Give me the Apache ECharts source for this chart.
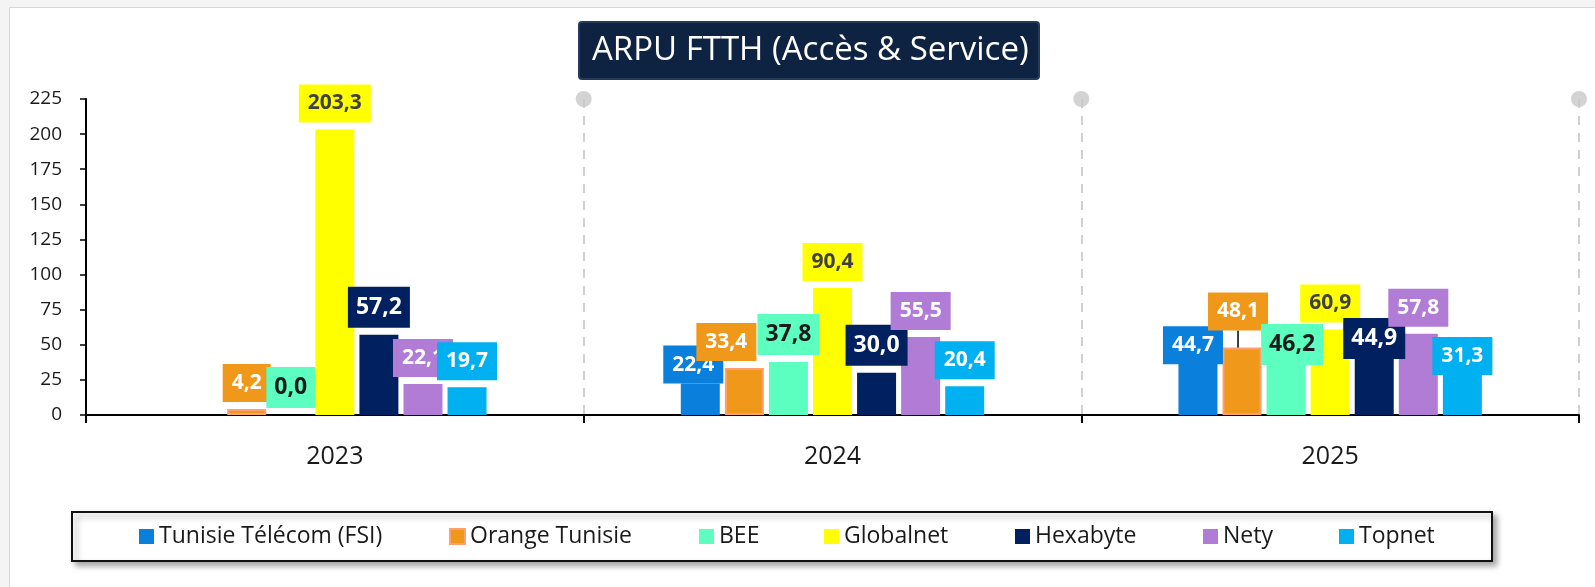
<!DOCTYPE html>
<html>
<head>
<meta charset="utf-8">
<script src="https://cdn.jsdelivr.net/npm/echarts@6/dist/echarts.min.js"></script>
<style>
  html, body { margin: 0; padding: 0; background: #f4f4f4; }
  .frame {
    position: absolute; left: 9px; top: 7px; right: -2px; bottom: -2px;
    background: #fff; border: 1px solid #d8d8d8;
  }
  #chart { position: absolute; left: 0; top: 0; width: 1595px; height: 587px; }
</style>
</head>
<body>
<div class="frame"></div>
<div id="chart"></div>
<script>
// ARPU FTTH (Accès & Service)
const years = ["2023", "2024", "2025"];
const operators = ["Tunisie Télécom (FSI)", "Orange Tunisie", "BEE", "Globalnet", "Hexabyte", "Nety", "Topnet"];

const tunisieTelecom = [null, 22.4, 44.7];
const orangeTunisie = [4.2, 33.4, 48.1];
const bee = [0.0, 37.8, 46.2];
const globalnet = [203.3, 90.4, 60.9];
const hexabyte = [57.2, 30.0, 44.9];
const nety = [22.1, 55.5, 57.8];
const topnet = [19.7, 20.4, 31.3];

const yTicks = [0, 225, 25]; // min, max, step
const groupEdges = [1, 2, 3]; // dashed separators between years

const colors = ["#0a7fdc", "#f0981a", "#5cffc0", "#ffff00", "#002060", "#b07cd6", "#00b0f0"];
const labelInk = ["#fff", "#fff", "#1a1a1a", "#404040", "#fff", "#fff", "#fff"];

// hand-moved data labels, like in the original workbook: [seriesIdx][dataIdx] -> [dx, dy]
const labelNudge = {
  0: { 1: [-7, 7], 2: [-5, 19] },
  1: { 1: [-18, 0], 2: [-4, -10] },
  2: { 2: [6, 22] },
  4: { 2: [0, 14] },
  6: { 2: [0, 11] },
};

// legend slot widths (Excel spreads the entries a bit unevenly)
const legendSlot = [250, 189, 65, 131, 128, 76, 76];

const fmt = (v) => v.toFixed(1).replace(".", ",");

const seriesValues = [tunisieTelecom, orangeTunisie, bee, globalnet, hexabyte, nety, topnet];

const barSeries = seriesValues.map((vals, si) => {
  const big = si === 2 || si === 4;
  return {
    name: operators[si],
    type: "bar",
    barWidth: 39,
    barGap: "13%",
    itemStyle: si === 1
      ? { color: colors[si], borderColor: "#ffa070", borderWidth: 2 }
      : { color: colors[si] },
    data: vals.map((v, di) => ({
      value: v,
      labelLine: si === 1 && di === 2 ? { show: true } : undefined,
    })),
    label: {
      show: true,
      position: "top",
      distance: 7,
      formatter: (p) => fmt(p.value),
      fontFamily: "Open Sans",
      fontWeight: "bold",
      fontSize: big ? 23 : 21,
      lineHeight: big ? 25 : 22,
      color: labelInk[si],
      backgroundColor: colors[si],
      padding: big ? [8, 8] : [8, 9],
    },
    labelLine: { show: false, lineStyle: { color: "#000", width: 1.5 } },
    labelLayout: (params) => {
      const n = labelNudge[si] && labelNudge[si][params.dataIndex];
      return n ? { dx: n[0], dy: n[1] } : {};
    },
  };
});

const chart = echarts.init(document.getElementById("chart"), null, { renderer: "canvas" });

chart.setOption({
  animation: false,
  backgroundColor: "transparent",
  title: {
    text: "ARPU FTTH (Accès & Service)",
    left: 579,
    top: 22,
    padding: [10, 11, 10, 13],
    backgroundColor: "#0e2341",
    borderColor: "#25395a",
    borderWidth: 2,
    borderRadius: 3,
    textStyle: {
      color: "#fff",
      fontFamily: "Open Sans",
      fontWeight: "normal",
      fontSize: 33,
      lineHeight: 37,
    },
  },
  legend: {
    data: operators.map((name, i) => ({ name, textStyle: { width: legendSlot[i] } })),
    left: 72,
    top: 512,
    padding: [11, 57, 11, 67],
    itemGap: 40,
    itemWidth: 15,
    itemHeight: 15,
    icon: "rect",
    backgroundColor: "#fff",
    borderColor: "#111",
    borderWidth: 2,
    shadowColor: "rgba(0,0,0,0.35)",
    shadowBlur: 6,
    shadowOffsetX: 4,
    shadowOffsetY: 4,
    textStyle: { fontFamily: "Open Sans", fontSize: 23, lineHeight: 27, color: "#1a1a1a" },
  },
  grid: { left: 86, right: 16, top: 99, bottom: 172, containLabel: false },
  xAxis: [
    {
      type: "category",
      data: years,
      axisLine: { lineStyle: { color: "#000", width: 2 } },
      axisTick: { show: true, length: 8, lineStyle: { color: "#000", width: 2 } },
      axisLabel: { fontFamily: "Open Sans", fontSize: 25, color: "#1a1a1a", margin: 29 },
      splitLine: { show: false },
    },
    {
      type: "value",
      min: 0,
      max: groupEdges.length,
      interval: 1,
      show: true,
      axisLine: { show: false },
      axisTick: { show: false },
      axisLabel: { show: false },
      splitLine: { show: true, lineStyle: { color: "#d0d0d0", width: 2, type: [9, 8] } },
    },
  ],
  yAxis: {
    type: "value",
    min: yTicks[0],
    max: yTicks[1],
    interval: yTicks[2],
    axisLine: { show: true, lineStyle: { color: "#000", width: 2 } },
    axisTick: { show: true, length: 6, lineStyle: { color: "#000", width: 1.5 } },
    axisLabel: { fontFamily: "Open Sans", fontSize: 19, color: "#1a1a1a", margin: 24 },
    splitLine: { show: false },
  },
  series: [
    ...barSeries,
    {
      name: "edges",
      type: "scatter",
      xAxisIndex: 1,
      symbol: "circle",
      symbolSize: 16,
      itemStyle: { color: "#c8c8c8" },
      silent: true,
      z: 1,
      data: groupEdges.map((e) => [e, yTicks[1]]),
    },
  ],
});
</script>
</body>
</html>
